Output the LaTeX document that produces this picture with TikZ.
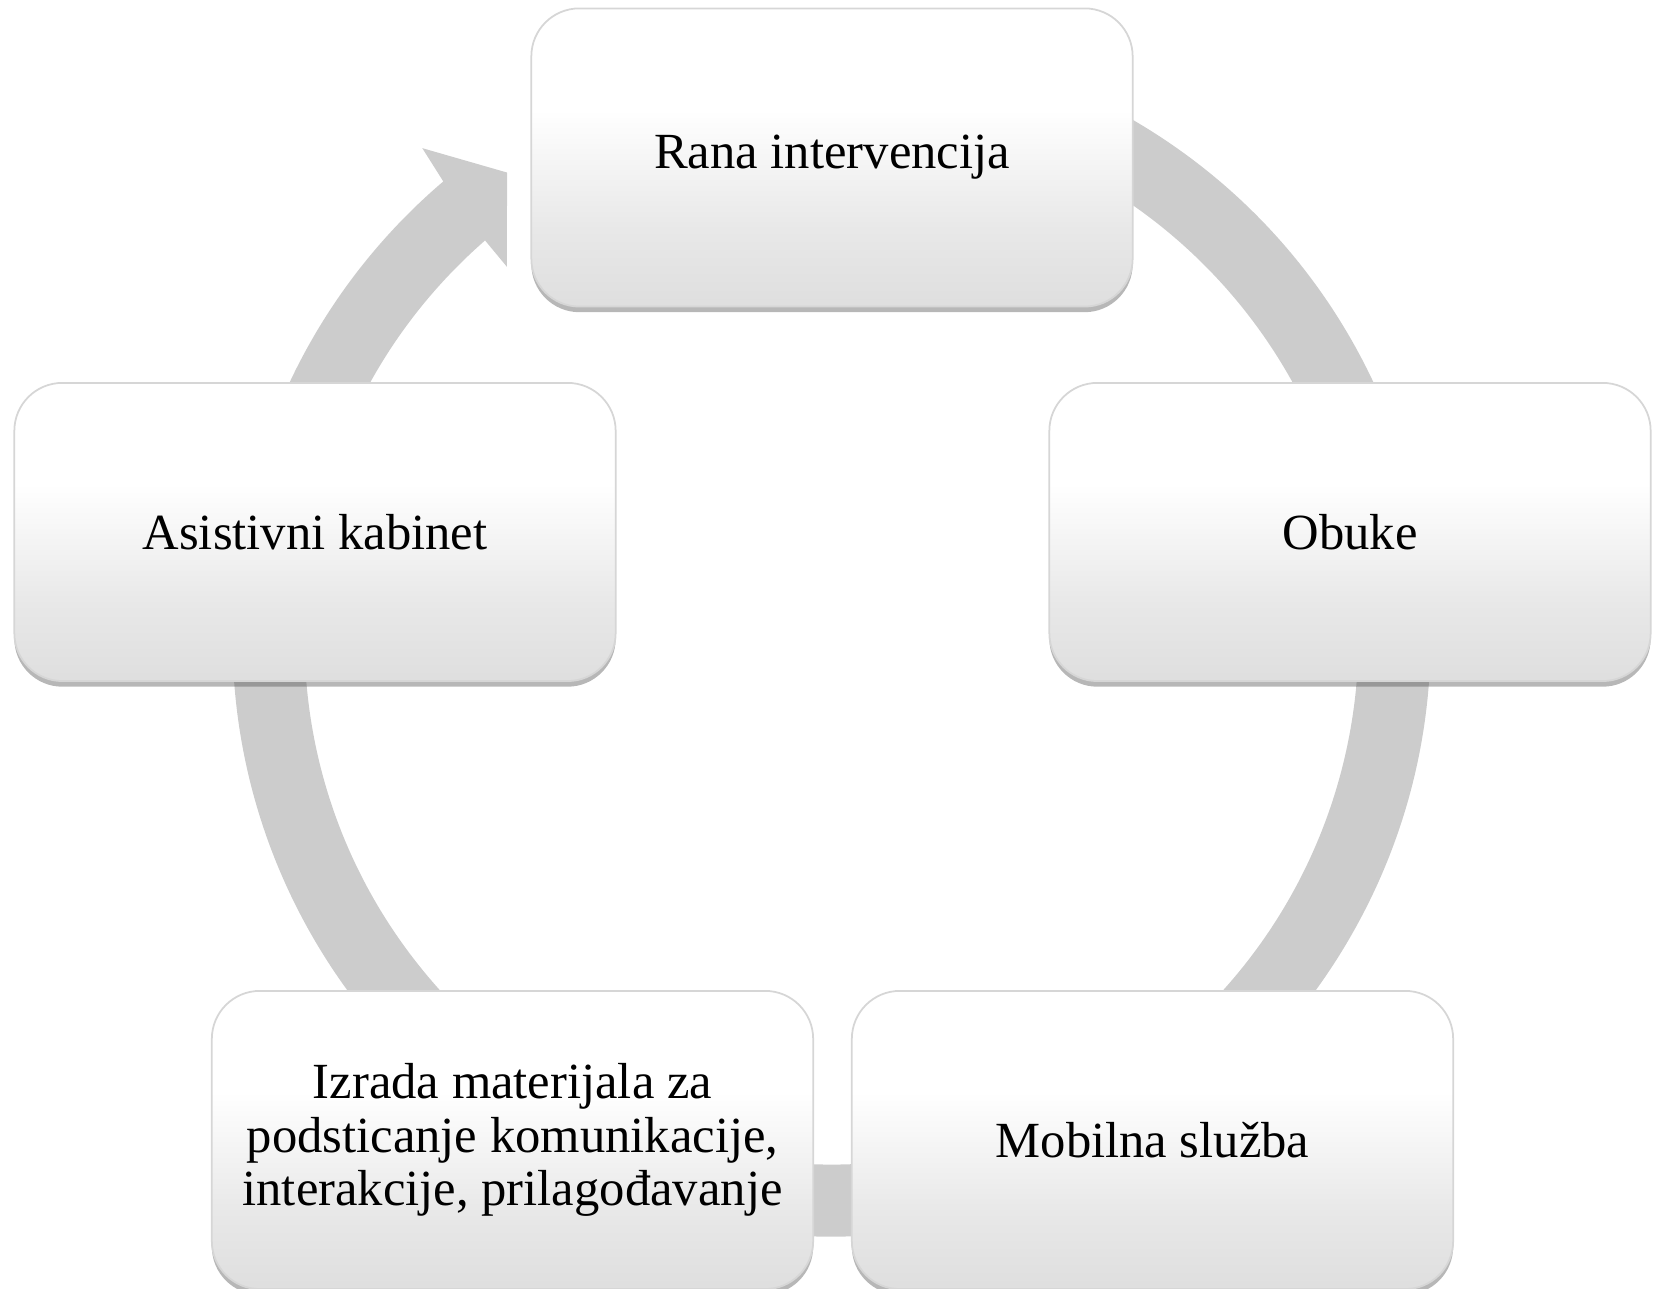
\documentclass[tikz,border=0pt]{standalone}
\usepackage{fontspec}
\setmainfont{Liberation Serif}
\usetikzlibrary{shadows}
\definecolor{ringgray}{HTML}{CCCCCC}
\pgfdeclareverticalshading{boxshade}{100bp}{color(0bp)=(black!20); color(38bp)=(black!9); color(58bp)=(white); color(100bp)=(white)}
\tikzset{
  cyclebox/.style={draw=black!16, line width=0.5pt, rounded corners=0.48cm,
    shading=boxshade, minimum width=6.01cm, minimum height=2.98cm,
    align=center, inner sep=2pt, font=\fontsize{14.4}{15.1}\selectfont,
    drop shadow={shadow xshift=0pt, shadow yshift=-1.6pt, fill=black!70, opacity=0.4}},
  ringfill/.style={fill=ringgray},
}

\begin{document}
\begin{tikzpicture}[x=0.01cm, y=0.01cm]
  \useasboundingbox (0,0) rectangle (1657,1289);

  %% ---- ring with arrow head (centre of the cycle) ----
  \begin{scope}[shift={(831.5,651.4)}]
    \coordinate (onotch) at (130.4:601);
    \coordinate (obarb)  at (129.9:638);
    \coordinate (tip)    at (124.9:567);
    \coordinate (ibarb)  at (131.2:493);
    \coordinate (inotch) at (131.1:527);
    \fill[ringfill] (60:599) arc[start angle=60, end angle=-229.6, radius=599]
      -- (obarb) -- (tip) -- (ibarb) -- (inotch)
      arc[start angle=-228.9, end angle=60, radius=527] -- cycle;
  \end{scope}

  %% ---- boxes ----
  \node[cyclebox] (rana)  at (832,1131.5) {Rana intervencija};
  \node[cyclebox] (obuke) at (1350,757)   {Obuke};
  \node[cyclebox] (mob)   at (1152.5,149) {Mobilna služba};
  \node[cyclebox] (izr)   at (512.5,149)  {Izrada materijala za\\ podsticanje komunikacije,\\ interakcije, prilagođavanje};
  \node[cyclebox] (asis)  at (315,757)    {Asistivni kabinet};

\end{tikzpicture}
\end{document}
